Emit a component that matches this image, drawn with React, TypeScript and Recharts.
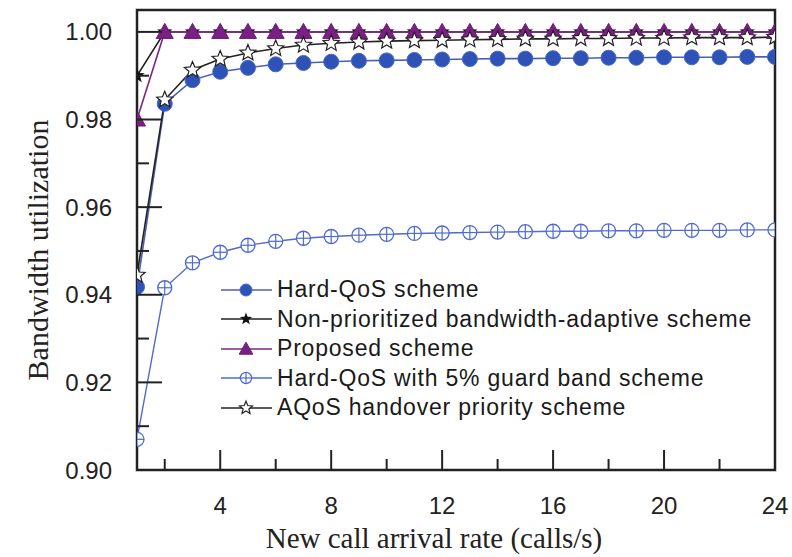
import { LineChart, Line, XAxis, YAxis, ReferenceArea } from 'recharts';

const rates = [1, 2, 3, 4, 5, 6, 7, 8, 9, 10, 11, 12, 13, 14, 15, 16, 17, 18, 19, 20, 21, 22, 23, 24];
const hardQos = [0.9418, 0.9836, 0.989, 0.9909, 0.9918, 0.9926, 0.9929, 0.9932, 0.9934, 0.9935, 0.9936, 0.9937, 0.9938, 0.9939, 0.9939, 0.994, 0.994, 0.9941, 0.9941, 0.9942, 0.9942, 0.9942, 0.9943, 0.9943];
const nonPrioritized = [0.99, 1, 1, 1, 1, 1, 1, 1, 1, 1, 1, 1, 1, 1, 1, 1, 1, 1, 1, 1, 1, 1, 1, 1];
const proposed = [0.98, 1, 1, 1, 1, 1, 1, 1, 1, 1, 1, 1, 1, 1, 1, 1, 1, 1, 1, 1, 1, 1, 1, 1];
const guardBand = [0.907, 0.9416, 0.9473, 0.9497, 0.9513, 0.9522, 0.9529, 0.9533, 0.9536, 0.9538, 0.954, 0.9541, 0.9542, 0.9543, 0.9544, 0.9545, 0.9545, 0.9546, 0.9546, 0.9547, 0.9547, 0.9547, 0.9548, 0.9548];
const aqos = [0.9445, 0.9845, 0.9913, 0.9938, 0.9952, 0.9962, 0.997, 0.9974, 0.9977, 0.9979, 0.998, 0.9981, 0.9982, 0.9983, 0.9984, 0.9984, 0.9985, 0.9985, 0.9986, 0.9986, 0.9987, 0.9987, 0.9987, 0.9988];

const xTicks = [2, 4, 6, 8, 10, 12, 14, 16, 18, 20, 22, 24];
const yTicks = [0.9, 0.91, 0.92, 0.93, 0.94, 0.95, 0.96, 0.97, 0.98, 0.99, 1.0];

const data = rates.map((x, i) => ({
  x,
  hard: hardQos[i],
  nonp: nonPrioritized[i],
  prop: proposed[i],
  guard: guardBand[i],
  aqos: aqos[i],
}));

const AXIS = '#222';
const SANS = '"Liberation Sans", Arial, sans-serif';
const SERIF = '"Liberation Serif", "Times New Roman", serif';

function starPoints(cx: number, cy: number, ro: number, ri: number) {
  const pts: string[] = [];
  for (let k = 0; k < 10; k++) {
    const r = k % 2 === 0 ? ro : ri;
    const a = -Math.PI / 2 + (k * Math.PI) / 5;
    pts.push(`${cx + r * Math.cos(a)},${cy + r * Math.sin(a)}`);
  }
  return pts.join(' ');
}

const Marker = ({ kind, cx, cy, scale = 1 }: { kind: string; cx: number; cy: number; scale?: number }) => {
  if (cx == null || cy == null) return null;
  const s = scale;
  switch (kind) {
    case 'hard':
      return <circle cx={cx} cy={cy} r={7.5 * s} fill="#2f52b7" stroke="#4466c8" strokeWidth={1} />;
    case 'guard':
      return (
        <g>
          <circle cx={cx} cy={cy} r={7 * s} fill="#fff" stroke="#4f6bd0" strokeWidth={1.3} />
          <line x1={cx - 7 * s} x2={cx + 7 * s} y1={cy} y2={cy} stroke="#4f6bd0" strokeWidth={1.2} />
          <line x1={cx} x2={cx} y1={cy - 7 * s} y2={cy + 7 * s} stroke="#4f6bd0" strokeWidth={1.2} />
        </g>
      );
    case 'prop':
      return (
        <polygon
          points={`${cx},${cy - 8.5 * s} ${cx - 8.5 * s},${cy + 6.5 * s} ${cx + 8.5 * s},${cy + 6.5 * s}`}
          fill="#7b1f84"
          stroke="#6a1a73"
          strokeWidth={1}
        />
      );
    case 'nonp':
      return <polygon points={starPoints(cx, cy, 8 * s, 3.4 * s)} fill="#111" />;
    case 'aqos':
      return <polygon points={starPoints(cx, cy, 8.5 * s, 3.8 * s)} fill="#fff" stroke="#222" strokeWidth={1.2} />;
    default:
      return null;
  }
};

const dotFor = (kind: string) => (p: any) => <Marker key={`${kind}-${p.index}`} kind={kind} cx={p.cx} cy={p.cy} />;

const XTick = ({ x, y, payload }: any) => {
  const major = payload.value % 4 === 0;
  return (
    <g>
      <line x1={x} x2={x} y1={y} y2={y - (major ? 20 : 11)} stroke={AXIS} strokeWidth={2} />
      {major && (
        <text x={x} y={y + 44} textAnchor="middle" fontFamily={SANS} fontSize={24} fill="#222">
          {payload.value}
        </text>
      )}
    </g>
  );
};

const YTick = ({ x, y, payload }: any) => {
  const major = Math.round(payload.value * 100) % 2 === 0;
  return (
    <g>
      <line x1={x} x2={x + (major ? 25 : 12)} y1={y} y2={y} stroke={AXIS} strokeWidth={2} />
      {major && (
        <text x={x - 25} y={y + 8.5} textAnchor="end" fontFamily={SANS} fontSize={24} fill="#222">
          {payload.value.toFixed(2)}
        </text>
      )}
    </g>
  );
};

const legendItems = [
  { kind: 'hard', color: '#4a5fb4', label: 'Hard-QoS scheme' },
  { kind: 'nonp', color: '#222', label: 'Non-prioritized bandwidth-adaptive scheme' },
  { kind: 'prop', color: '#7b2a86', label: 'Proposed scheme' },
  { kind: 'guard', color: '#4f6bd0', label: 'Hard-QoS with 5% guard band scheme' },
  { kind: 'aqos', color: '#222', label: 'AQoS handover priority scheme' },
];

const LegendBox = () => (
  <div
    style={{
      position: 'absolute',
      left: 220,
      top: 275,
      fontFamily: SANS,
      fontSize: 23,
      letterSpacing: 0.8,
      color: '#1a1a1a',
      lineHeight: 1,
    }}
  >
    {legendItems.map((it) => (
      <div key={it.kind} style={{ display: 'flex', alignItems: 'center', height: 29.5, whiteSpace: 'nowrap' }}>
        <svg width={54} height={22} style={{ marginRight: 3 }}>
          <line x1={1} x2={52} y1={11} y2={11} stroke={it.color} strokeWidth={1.6} />
          <Marker kind={it.kind} cx={26} cy={11} scale={0.8} />
        </svg>
        <span>{it.label}</span>
      </div>
    ))}
  </div>
);

export default function App() {
  return (
    <div style={{ position: 'absolute', left: 0, top: 0, width: 792, height: 557, background: '#fff' }}>
      <LineChart width={792} height={557} data={data} margin={{ top: 10, right: 17, left: 0, bottom: 0 }}>
        <XAxis
          dataKey="x"
          type="number"
          domain={[1, 24]}
          ticks={xTicks}
          allowDataOverflow
          height={87}
          axisLine={false}
          tickLine={false}
          tickSize={0}
          tickMargin={0}
          tick={<XTick />}
          label={{
            value: 'New call arrival rate (calls/s)',
            position: 'insideBottom',
            offset: 9,
            dx: -22,
            style: { fontFamily: SERIF, fontSize: 29, fill: '#222' },
          }}
        />
        <YAxis
          type="number"
          domain={[0.9, 1.005]}
          ticks={yTicks}
          allowDataOverflow
          width={137}
          axisLine={false}
          tickLine={false}
          tickSize={0}
          tickMargin={0}
          tick={<YTick />}
          label={() => (
            <text
              x={48}
              y={250}
              transform="rotate(-90 48 250)"
              textAnchor="middle"
              fontFamily={SERIF}
              fontSize={30}
              fill="#222"
            >
              Bandwidth utilization
            </text>
          )}
        />
        <ReferenceArea x1={1} x2={24} y1={0.9} y2={1.005} fill="none" stroke={AXIS} strokeWidth={2.5} ifOverflow="visible" />
        <Line dataKey="guard" stroke="#4f6bd0" strokeWidth={1.4} dot={dotFor('guard')} isAnimationActive={false} />
        <Line dataKey="hard" stroke="#4a5fb4" strokeWidth={1.6} dot={dotFor('hard')} isAnimationActive={false} />
        <Line dataKey="nonp" stroke="#222" strokeWidth={1.6} dot={dotFor('nonp')} isAnimationActive={false} />
        <Line dataKey="prop" stroke="#7b2a86" strokeWidth={1.6} dot={dotFor('prop')} isAnimationActive={false} />
        <Line dataKey="aqos" stroke="#222" strokeWidth={1.6} dot={dotFor('aqos')} isAnimationActive={false} />
      </LineChart>
      <LegendBox />
    </div>
  );
}
